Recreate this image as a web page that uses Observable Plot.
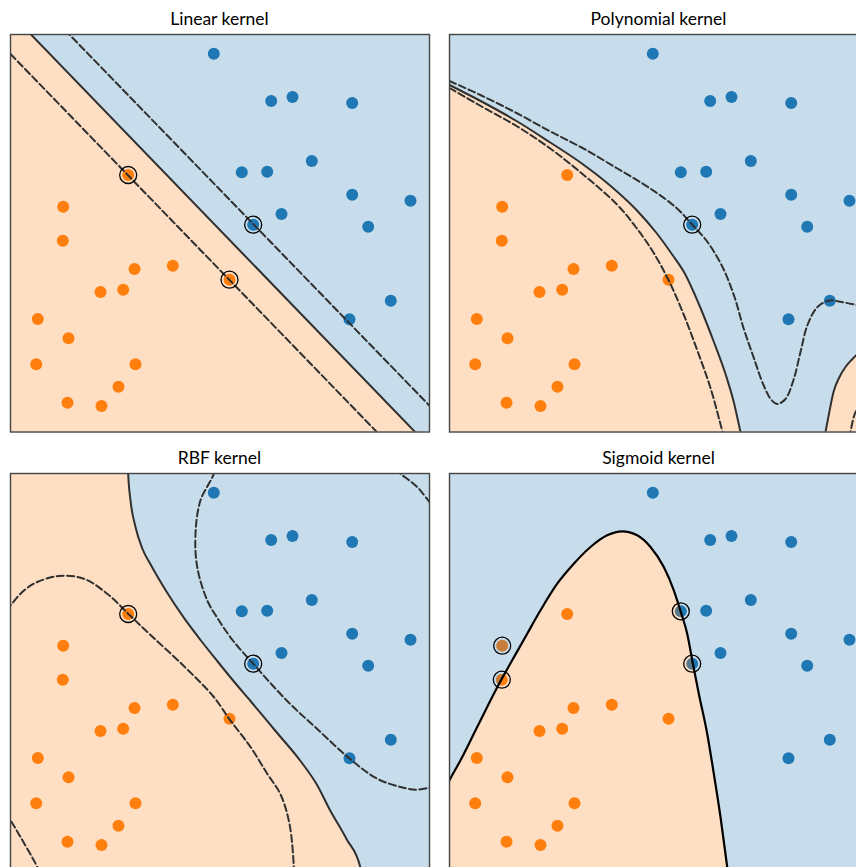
<!DOCTYPE html>
<html><head><meta charset="utf-8">
<script src="https://cdn.jsdelivr.net/npm/d3@7"></script>
<script src="https://cdn.jsdelivr.net/npm/@observablehq/plot@0.6"></script>
<style>
html,body{margin:0;padding:0;background:#fff;}
#fig{position:relative;width:856px;height:867px;overflow:hidden;background:#fff;}
.panel{position:absolute;width:423px;}
.title{position:absolute;width:419px;text-align:center;font-family:Lato,"DejaVu Sans",sans-serif;font-size:17.5px;color:#000;line-height:1;white-space:nowrap;}
</style></head><body><div id="fig"></div>
<script>
// ---- training points (x right, y up) ----
const blueX = [203.3, 260.7, 282, 341.7, 301.3, 231.3, 256.7, 341.7, 400, 271, 242.7, 357.7, 380.3, 339];
const blueY = [378.3, 331, 335, 329, 271, 259.7, 260.3, 237.3, 231.3, 218, 207.3, 205.3, 131.3, 112.7];
const orangeX = [117.7, 52.7, 52.3, 124, 162.3, 219, 90, 112.7, 27.3, 58, 25.7, 125, 108, 57, 91];
const orangeY = [257, 225.3, 191.3, 163, 166.3, 152.3, 140, 142.3, 113, 93.7, 67.7, 67.7, 45.3, 29.3, 26];

// ---- support vectors per kernel: [class, index] ----
const linearSV = [["orange", 0], ["orange", 5], ["blue", 10]];
const polySV = [["blue", 10]];
const rbfSV = [["orange", 0], ["blue", 10]];
const sigmoidSV = [["orange", 1], ["orange", 2], ["blue", 5], ["blue", 10]];

// ---- decision boundaries (level 0) and margins (levels -1, +1) ----
const linearBoundary = [[0, 418.7], [419, -14.9]];
const linearUpper = [[40, 416.9], [419, 26.3]];
const linearLower = [[0, 378], [376, -10]];

const polyBoundaryA = [[0,347],[33,330],[67,311],[100,290],[133,268],[160,247],[187,222],[207,199],[223,177],[235,159],[251,124],[264,91],[276,58],[284,31],[291,0],[296,-22]];
const polyBoundaryB = [[372,-22],[376,0],[380,21],[384,40],[390,55],[396,65],[402,72],[407,77],[419,84]];
const polyUpper = [[0,351],[33,336],[67,319],[100,301],[133,284],[167,264],[200,244],[227,224],[243,207],[258,190],[273,165],[285,135],[294,104],[304,75],[314,47],[322,32],[328,28],[336,33],[344,52],[351,80],[358,107],[368,125],[380,131.5],[392,130],[407,127],[419,124]];
const polyLower = [[0,344],[33,325],[67,306],[100,284],[133,258],[167,228],[187,204],[203,181],[219,152],[234,118],[248,81],[261,44],[273,0],[276,-12]];
const polyLowerB = [[400,-6],[401,0],[404,14],[407,22],[419,40]];

const rbfBoundary = [[0,440],[116.5,440],[117.7,397.3],[120,370.7],[125,344],[132,322],[140,306.7],[155,281],[173.3,253.3],[190,231],[206.7,210],[223,190],[240,170],[265,140],[290,110],[306,87],[320,60],[336,32],[350,3],[353,-20],[419,-20]];
const rbfOrangeMargin = [[-5,262],[0,265.7],[10,277.3],[23.3,287.3],[48.3,295],[73.3,292.3],[96.7,277.3],[117.7,257.3],[140,236],[173.3,205],[203.3,174],[219,151.7],[240,124],[256.7,97.3],[270,76.7],[279,47],[283.3,4],[283.3,-10]];
const rbfOrangeMargin2 = [[-5,58],[0,50.7],[10,34],[23.3,10.7],[30,-2]];
const rbfBlueMargin = [[205,410],[203.3,397.3],[190,370.7],[185,337.3],[186.7,304],[196.7,270.7],[206.7,253.3],[222,231],[242.7,207.3],[276.7,170],[306.7,142],[339,112.5],[366.7,92.3],[390,84],[405,81.3],[419,83.3],[425,85]];
const rbfBlueMargin2 = [[385,402],[390,397.3],[406.7,384],[419,369],[425,362]];

const sigmoidBoundary = [[-5,80],[0,90.7],[11,110.7],[27.7,144],[52,191.7],[62.7,210.7],[77.7,237.3],[91,260.7],[107.7,287.3],[124.3,307.3],[141,324],[157.7,335.7],[172.7,339.7],[187.7,335.7],[201,324],[214.3,304],[224.3,280.7],[231,260],[237.7,237.3],[243.3,207.7],[249.3,177.3],[257.7,137.3],[264.3,97.3],[271,54],[277.7,4],[281,-20],[419,-20]];

const titles = ["Linear kernel", "Polynomial kernel", "RBF kernel", "Sigmoid kernel"];

// ---- styling ----
const BLUE = "#1f77b4", ORANGE = "#ff7f0e";
const W = 419, H = 397.5;
const LINE = "#303030";
const LW = 2;
const DASH = "7,3.4";

const bluePts = blueX.map((x, i) => ({x, y: blueY[i]}));
const orangePts = orangeX.map((x, i) => ({x, y: orangeY[i]}));
const svPts = (sv) => sv.map(([c, i]) => c === "blue" ? bluePts[i] : orangePts[i]);

const panels = [
  {title: titles[0], left: 10, top: 33.5, fill: linearBoundary, fillCurve: "linear",
   solid: [linearBoundary], dashed: [linearUpper, linearLower], sv: linearSV, solidCurve: "linear", dashCurve: "linear"},
  {title: titles[1], left: 449, top: 33.5, fill: polyBoundaryA.concat(polyBoundaryB), fillCurve: "monotone-x",
   solid: [polyBoundaryA, polyBoundaryB], dashed: [polyUpper, polyLower, polyLowerB], sv: polySV, solidCurve: "monotone-x", dashCurve: "catmull-rom"},
  {title: titles[2], left: 10, top: 472.5, fill: rbfBoundary, fillCurve: "monotone-x",
   solid: [rbfBoundary], dashed: [rbfOrangeMargin, rbfOrangeMargin2, rbfBlueMargin, rbfBlueMargin2], sv: rbfSV, solidCurve: "monotone-x", dashCurve: "catmull-rom"},
  {title: titles[3], left: 449, top: 472.5, fill: sigmoidBoundary, fillCurve: "monotone-x",
   solid: [sigmoidBoundary], dashed: [], sv: sigmoidSV, solidCurve: "monotone-x", dashCurve: "catmull-rom", black: true}
];

const fig = document.getElementById("fig");
for (const p of panels) {
  const marks = [
    Plot.dot(orangePts, {x: "x", y: "y", r: 6, fill: ORANGE, stroke: "none"}),
    Plot.dot(bluePts, {x: "x", y: "y", r: 6, fill: BLUE, stroke: "none"}),
    Plot.areaY(p.fill, {x: d => d[0], y1: () => -60, y2: d => d[1], fill: ORANGE, fillOpacity: 0.25, curve: p.fillCurve, clip: true}),
    Plot.areaY(p.fill, {x: d => d[0], y1: d => d[1], y2: () => H + 60, fill: BLUE, fillOpacity: 0.25, curve: p.fillCurve, clip: true})
  ];
  for (const d of p.dashed) {
    marks.push(Plot.line(d, {x: d => d[0], y: d => d[1], stroke: LINE, strokeWidth: LW, strokeDasharray: DASH, curve: p.dashCurve, clip: true}));
  }
  for (const s of p.solid) {
    marks.push(Plot.line(s, {x: d => d[0], y: d => d[1], stroke: p.black ? "#000" : LINE, strokeWidth: p.black ? 2.2 : LW, curve: p.solidCurve, clip: true}));
  }
  marks.push(Plot.dot(svPts(p.sv), {x: "x", y: "y", r: 8.5, fill: "none", stroke: "#000", strokeWidth: 1.3}));
  marks.push(Plot.frame({stroke: "#444", strokeWidth: 1.4}));

  const svg = Plot.plot({
    width: W + 4, height: H + 4, margin: 2,
    x: {domain: [0, W], axis: null},
    y: {domain: [0, H], axis: null},
    style: {background: "transparent"},
    marks
  });
  const div = document.createElement("div");
  div.className = "panel";
  div.style.left = (p.left - 2) + "px";
  div.style.top = (p.top - 2) + "px";
  div.appendChild(svg);
  fig.appendChild(div);

  const t = document.createElement("div");
  t.className = "title";
  t.textContent = p.title;
  t.style.left = p.left + "px";
  t.style.top = (p.top - 24) + "px";
  fig.appendChild(t);
}
</script></body></html>
